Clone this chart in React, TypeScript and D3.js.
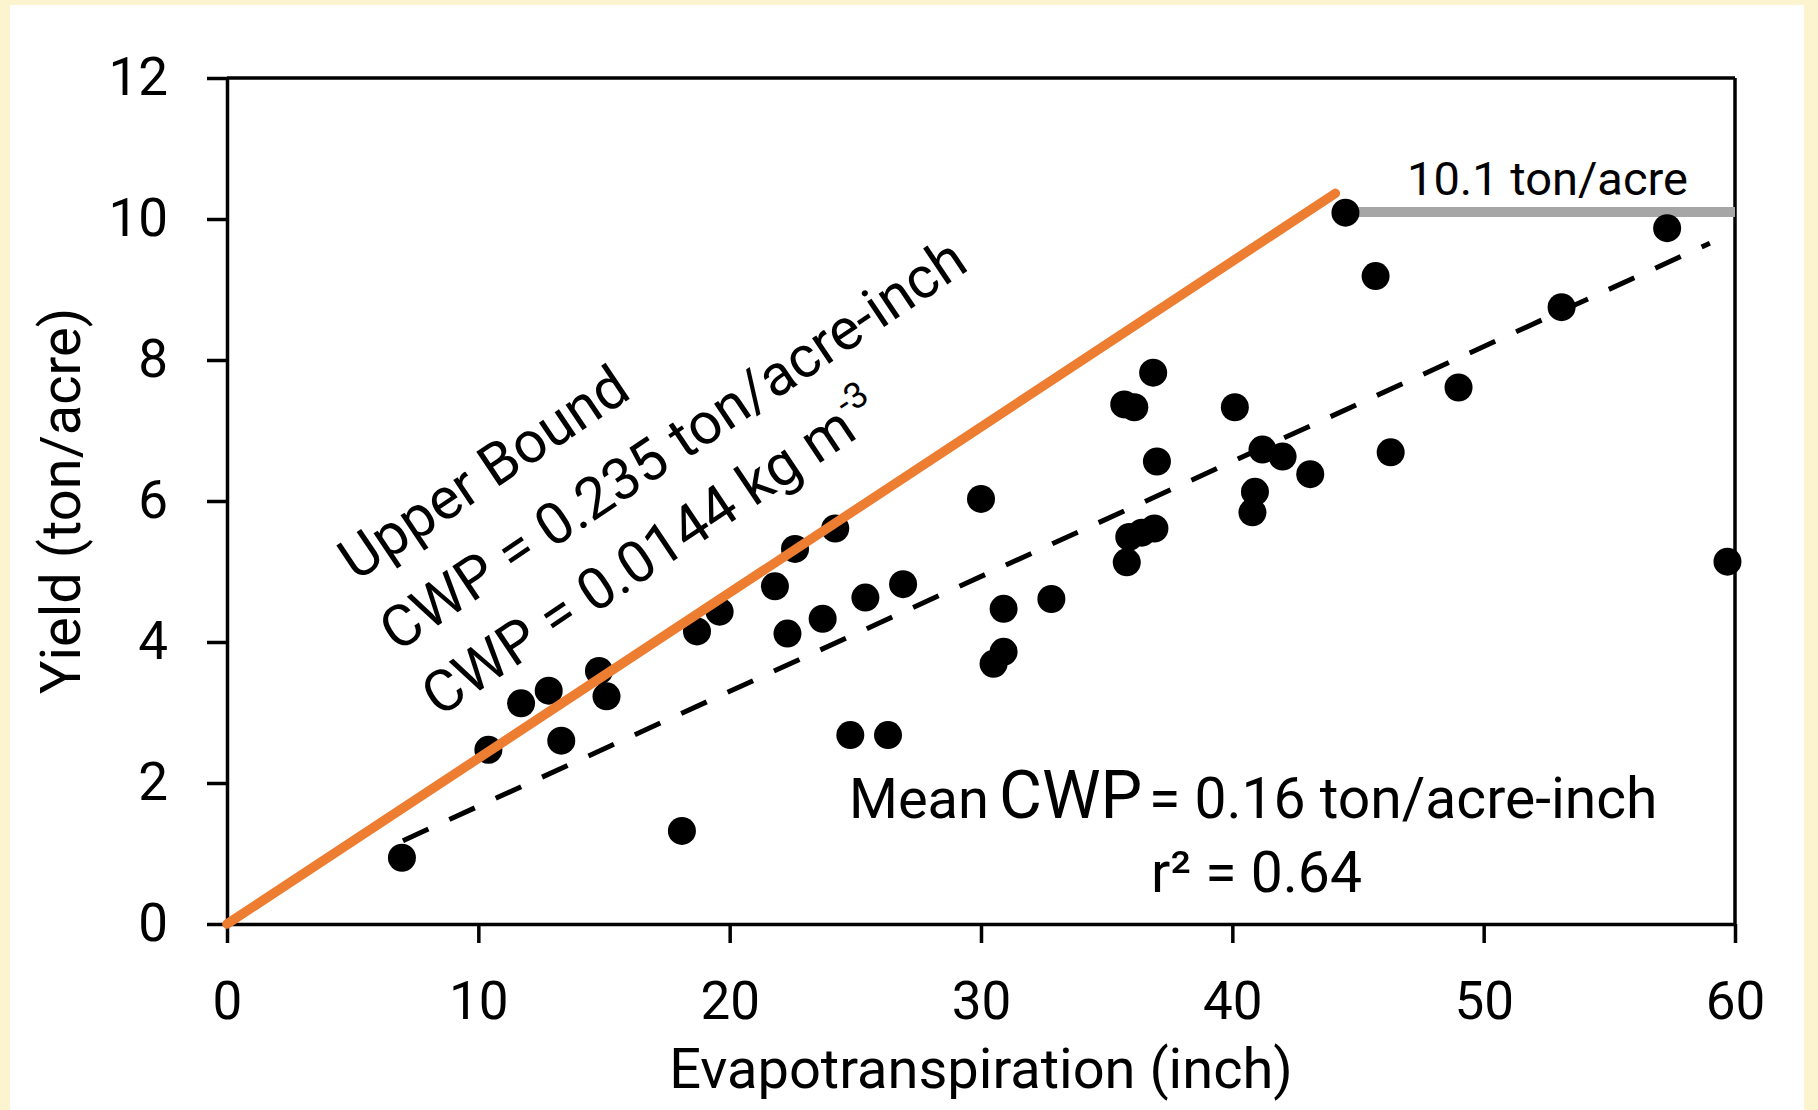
import React, { useEffect, useRef } from 'react'
import * as d3 from 'd3'

// Evapotranspiration (inch) vs yield (ton/acre)
const etInches = [6.96, 10.4, 11.7, 12.8, 13.3, 14.8, 15.1, 18.1, 18.7, 19.6, 21.8, 22.3, 22.6, 23.7, 24.2,
  24.8, 25.4, 26.3, 26.9, 30.0, 30.5, 30.9, 30.9, 32.8, 35.8, 35.7, 36.1, 35.9, 36.4, 36.85,
  36.9, 37.0, 40.1, 40.8, 40.9, 41.2, 42.0, 43.1, 44.5, 45.7, 46.3, 49.0, 53.1, 57.3, 59.7]
const yieldTons = [0.94, 2.47, 3.13, 3.31, 2.60, 3.59, 3.23, 1.32, 4.15, 4.43, 4.79, 4.12, 5.32, 4.33, 5.61,
  2.68, 4.63, 2.68, 4.82, 6.03, 3.69, 3.86, 4.47, 4.61, 5.13, 7.37, 7.33, 5.49, 5.55, 7.82,
  5.61, 6.56, 7.33, 5.84, 6.13, 6.73, 6.63, 6.38, 10.09, 9.19, 6.69, 7.61, 8.75, 9.87, 5.14]

const xTicks = [0, 10, 20, 30, 40, 50, 60]
const yTicks = [0, 2, 4, 6, 8, 10, 12]

// upper bound and mean fit
const upperSlope = 0.235
const upperEnd = 44.1
const yieldCap = 10.1
const capStart = 44.4
const meanSlope = 0.163
const meanIntercept = 0.04
const fitRange = [7, 59]

const font = 'Roboto, sans-serif'

export default function App() {
  const ref = useRef<SVGSVGElement>(null)

  useEffect(() => {
    const svg = d3.select(ref.current)
    svg.selectAll('*').remove()

    const W = 1818, H = 1110
    const x = d3.scaleLinear().domain([0, 60]).range([227, 1735])
    const y = d3.scaleLinear().domain([0, 12]).range([924, 78])

    // page background + white panel
    svg.append('rect').attr('width', W).attr('height', H).attr('fill', '#fbf4cf')
    svg.append('rect').attr('x', 10).attr('y', 5).attr('width', 1794).attr('height', H - 5).attr('fill', '#ffffff')

    // axes
    const yAxis = svg.append('g')
      .attr('transform', `translate(${x(0)},0)`)
      .call(d3.axisLeft(y).tickValues(yTicks).tickSize(20).tickSizeOuter(0).tickPadding(39).tickFormat(d3.format('d')))
    const xAxis = svg.append('g')
      .attr('transform', `translate(0,${y(0)})`)
      .call(d3.axisBottom(x).tickValues(xTicks).tickSize(19).tickSizeOuter(0).tickPadding(38).tickFormat(d3.format('d')))

    for (const g of [yAxis, xAxis]) {
      g.selectAll('path, line').attr('stroke', '#000').attr('stroke-width', 3.5)
      g.selectAll('text').attr('font-family', font).attr('font-size', 53).attr('fill', '#000')
    }

    // frame top + right
    svg.append('line').attr('x1', x(0)).attr('x2', x(60)).attr('y1', y(12)).attr('y2', y(12))
      .attr('stroke', '#000').attr('stroke-width', 3.5)
    svg.append('line').attr('x1', x(60)).attr('x2', x(60)).attr('y1', y(12)).attr('y2', y(0))
      .attr('stroke', '#000').attr('stroke-width', 3.5)

    const line = d3.line<number[]>().x(d => x(d[0])).y(d => y(d[1]))

    // 10.1 ton/acre cap
    svg.append('path')
      .attr('d', line([[capStart, yieldCap], [60, yieldCap]]))
      .attr('stroke', '#a6a6a6').attr('stroke-width', 10).attr('fill', 'none')

    // mean CWP fit
    svg.append('path')
      .attr('d', line(fitRange.map(v => [v, meanIntercept + meanSlope * v])))
      .attr('stroke', '#000').attr('stroke-width', 5).attr('fill', 'none')
      .attr('stroke-dasharray', '28 23')

    // points
    svg.append('g')
      .selectAll('circle')
      .data(etInches.map((v, i) => [v, yieldTons[i]]))
      .join('circle')
      .attr('cx', d => x(d[0]))
      .attr('cy', d => y(d[1]))
      .attr('r', 14)
      .attr('fill', '#000')

    // upper bound
    svg.append('path')
      .attr('d', line([[0, 0], [upperEnd, upperSlope * upperEnd]]))
      .attr('stroke', '#ed7d31').attr('stroke-width', 9.5).attr('fill', 'none')
      .attr('stroke-linecap', 'round')

    // axis titles
    svg.append('text')
      .attr('x', 981).attr('y', 1088).attr('text-anchor', 'middle')
      .attr('font-family', font).attr('font-size', 56).attr('fill', '#000')
      .text('Evapotranspiration (inch)')
    svg.append('text')
      .attr('transform', 'translate(80,501) rotate(-90)').attr('text-anchor', 'middle')
      .attr('font-family', font).attr('font-size', 56).attr('fill', '#000')
      .text('Yield (ton/acre)')

    // annotations
    svg.append('text')
      .attr('x', 1407).attr('y', 195)
      .attr('font-family', font).attr('font-size', 47).attr('fill', '#000')
      .text('10.1 ton/acre')

    const angle = -33.8
    const rot = [
      { x: 356, y: 582, t: 'Upper Bound' },
      { x: 397, y: 653, t: 'CWP = 0.235 ton/acre-inch' },
      { x: 439, y: 718, t: 'CWP = 0.0144 kg m' },
    ]
    rot.forEach((r, i) => {
      const t = svg.append('text')
        .attr('transform', `translate(${r.x},${r.y}) rotate(${angle})`)
        .attr('font-family', font).attr('font-size', 58).attr('fill', '#000')
        .text(r.t)
      if (i === 2) t.append('tspan').attr('dy', -24).attr('font-size', 36).text('-3')
    })

    const mean = svg.append('text')
      .attr('y', 818).attr('font-family', font).attr('fill', '#000')
    mean.append('tspan').attr('x', 849).attr('font-size', 56).text('Mean')
    mean.append('tspan').attr('x', 999).attr('font-size', 66).text('CWP')
    mean.append('tspan').attr('x', 1149).attr('font-size', 57).text('= 0.16 ton/acre-inch')

    svg.append('text')
      .attr('x', 1151).attr('y', 892)
      .attr('font-family', font).attr('font-size', 57).attr('fill', '#000')
      .text('r² = 0.64')
  }, [])

  return (
    <div style={{ position: 'absolute', left: 0, top: 0 }}>
      <svg ref={ref} width={1818} height={1110} style={{ display: 'block' }} />
    </div>
  )
}
